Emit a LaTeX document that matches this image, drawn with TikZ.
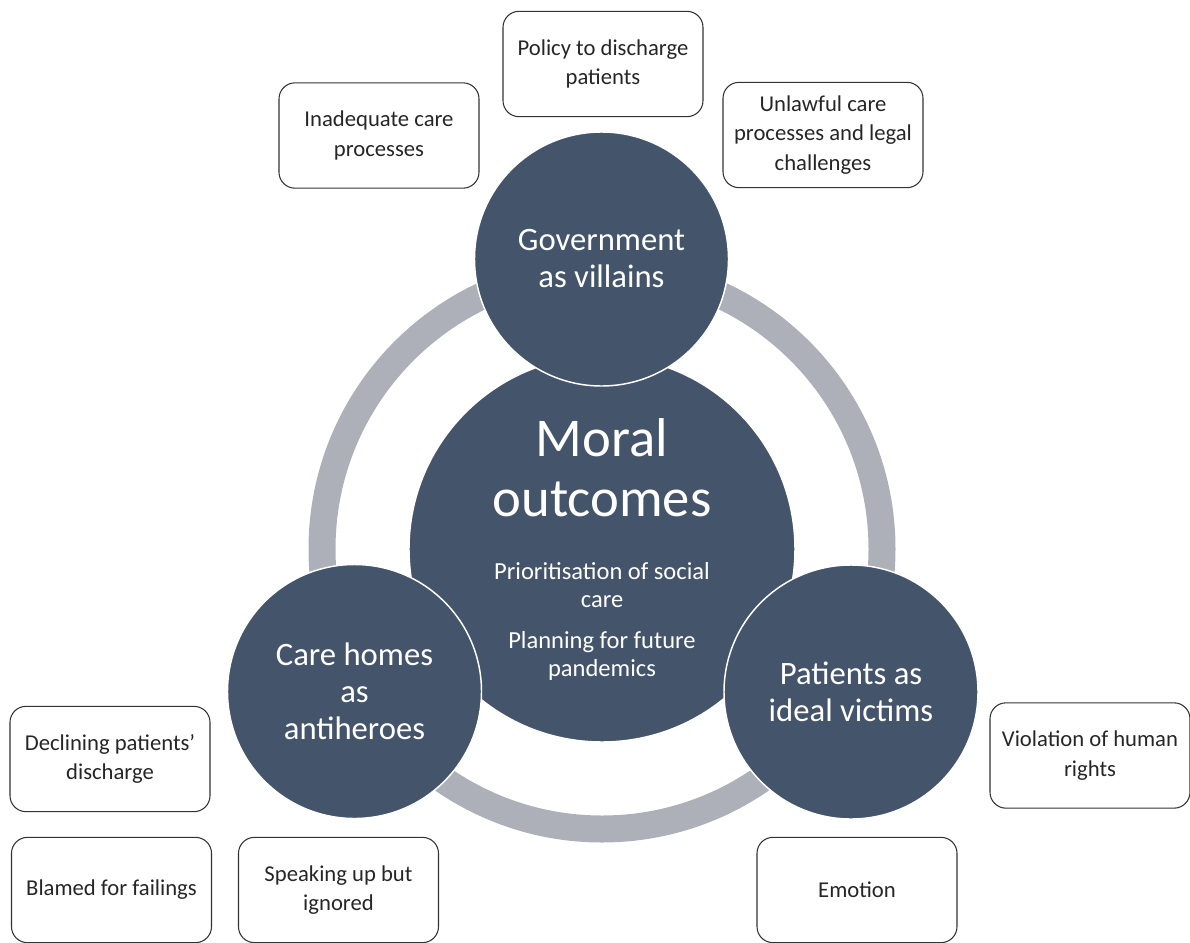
\documentclass[tikz,border=0pt]{standalone}
\usepackage{fontspec}
\setmainfont{Carlito}
\usetikzlibrary{positioning}
\definecolor{slate}{HTML}{44546A}
\definecolor{ringgray}{HTML}{ADB0B8}
\definecolor{boxtext}{HTML}{262626}
\tikzset{
  themenode/.style={circle,fill=slate,draw=white,line width=1.1pt,minimum size=190.5pt,inner sep=0pt,
    text=white,align=center,font=\fontsize{24.5}{27.75}\selectfont},
  corenode/.style={themenode,minimum size=289.5pt},
  corelabel/.style={text=white,align=center,inner sep=0pt},
  codebox/.style={draw=black!80,line width=0.8pt,rounded corners=12pt,minimum width=150pt,minimum height=79pt,
    inner sep=2pt,align=center,text=boxtext,font=\fontsize{17}{22}\selectfont},
}

\begin{document}
\begin{tikzpicture}[x=0.75pt,y=-0.75pt]
  \useasboundingbox (0,0) rectangle (1190,943);
  % ring linking the three themes
  \coordinate (hub) at (602,549);
  \draw[ringgray,line width=20.25pt] (hub) circle[radius=280];
  % central theme
  \node[corenode] (core) at (hub) {};
  \node[corelabel,font=\fontsize{41}{45}\selectfont] (coretitle) at (602,468) {Moral\\outcomes};
  \node[corelabel,font=\fontsize{18.4}{21}\selectfont] (corenote) at (602,621)
    {Prioritisation of social\\care\\[9.75pt]Planning for future\\pandemics};
  % outer themes
  \node[themenode] (govt) at (601.5,259) {Government\\as villains};
  \node[themenode] (homes) at (354.5,691.5) {Care homes\\as\\antiheroes};
  \node[themenode] (victims) at (851,692) {Patients as\\ideal victims};
  % codes around each theme
  \node[codebox] (policy) at (603,64) {Policy to discharge\\patients};
  \node[codebox] (inadequate) at (379,135.5) {Inadequate care\\processes};
  \node[codebox] (unlawful) at (823,135) {Unlawful care\\processes and legal\\challenges};
  \node[codebox] (declining) at (110,759) {Declining patients’\\discharge};
  \node[codebox] (blamed) at (111.5,890) {Blamed for failings};
  \node[codebox] (speaking) at (338.5,890) {Speaking up but\\ignored};
  \node[codebox] (emotion) at (857,890) {Emotion};
  \node[codebox] (violation) at (1090,755.5) {Violation of human\\rights};
\end{tikzpicture}
\end{document}
